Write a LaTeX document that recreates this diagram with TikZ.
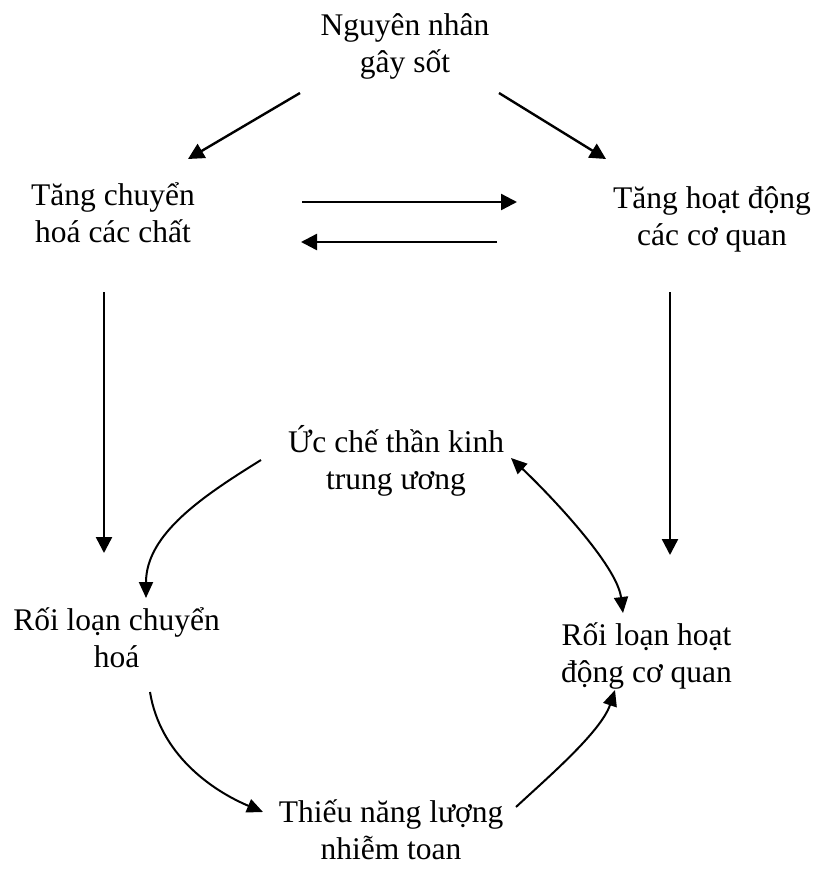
\documentclass[tikz,border=0pt]{standalone}
\usepackage{fontspec}
\setmainfont{Liberation Serif}
\usetikzlibrary{arrows.meta,calc}
\tikzset{
  lab/.style={font=\fontsize{31.5}{37}\selectfont, align=center, inner sep=0pt},
  flow/.style={line width=2.4pt, -{Triangle[length=16pt,width=16pt]}},
  arcflow/.style={line width=2pt, -{Triangle[length=16pt,width=14pt]}},
  arcboth/.style={line width=2pt, {Triangle[length=16pt,width=14pt]}-{Triangle[length=16pt,width=14pt]}}
}
\begin{document}
\begin{tikzpicture}[x=1pt,y=-1pt]
  \useasboundingbox (0,0) rectangle (813,871);

  % Top part
  \node[lab] (cause) at (405,46) {Nguyên nhân\\gây sốt};
  \node[lab] (metab) at (113,213) {Tăng chuyển\\hoá các chất};
  \node[lab] (organ) at (712,219) {Tăng hoạt động\\các cơ quan};

  % Cycle
  \node[lab] (inhib) at (396,461) {Ức chế thần kinh\\trung ương};
  \node[lab] (metdis) at (116.5,638) {Rối loạn chuyển\\hoá};
  \node[lab] (orgdis) at (646.5,656) {Rối loạn hoạt\\động cơ quan};
  \node[lab] (lack) at (391,830) {Thiếu năng lượng\\nhiễm toan};

  % From the cause
  \draw[flow] ($(cause)+(-105,47)$) -- ($(metab)+(75,-54)$);
  \draw[flow] ($(cause)+(94,47)$) -- ($(organ)+(-106,-60)$);

  % Between the two
  \draw[flow] ($(metab)+(189,-11)$) -- ($(organ)+(-195,-17)$);
  \draw[flow] ($(organ)+(-215,23)$) -- ($(metab)+(188,29)$);

  % Down
  \draw[flow] ($(metab)+(-9,79)$) -- ($(metdis)+(-12.5,-85)$);
  \draw[flow] ($(organ)+(-42,73)$) -- ($(orgdis)+(23.5,-101)$);

  % Round the cycle
  \draw[arcflow] ($(inhib)+(-135,-1)$) .. controls +(-58,36) and +(0,-64) .. ($(metdis)+(29.5,-40)$);
  \draw[arcboth] ($(inhib)+(115,-3)$) .. controls +(38,36) and +(-6,-48) .. ($(orgdis)+(-23.5,-43)$);
  \draw[arcflow] ($(metdis)+(33.5,54)$) .. controls +(10,62) and +(-52,-22) .. ($(lack)+(-128,-18)$);
  \draw[arcflow] ($(lack)+(125,-23)$) .. controls +(30,-28) and +(-14,42) .. ($(orgdis)+(-31.5,34)$);
\end{tikzpicture}
\end{document}
